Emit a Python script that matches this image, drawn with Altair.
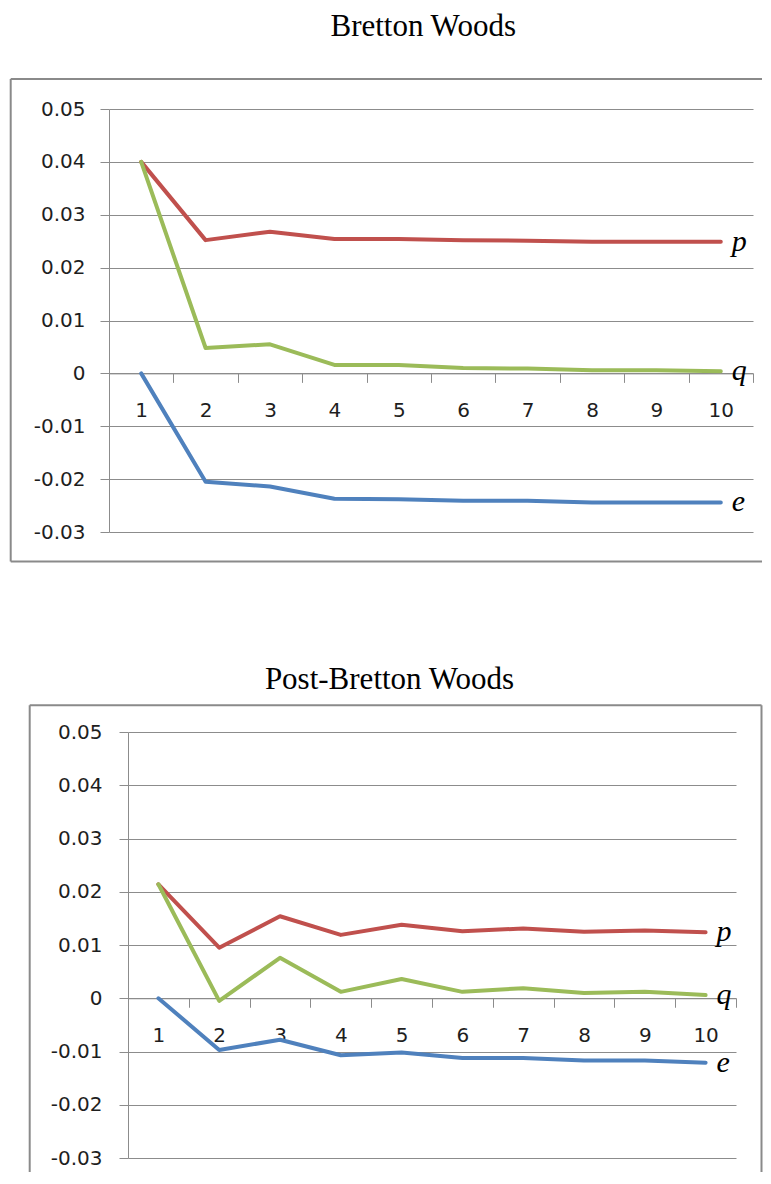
import altair as alt
import pandas as pd

# ---------------- data ----------------
periods = list(range(1, 11))

bw_p = [0.0400, 0.0252, 0.0268, 0.0254, 0.0254, 0.0252, 0.0251, 0.0249, 0.0249, 0.0249]
bw_q = [0.0400, 0.0048, 0.0055, 0.0016, 0.0016, 0.0010, 0.0009, 0.0006, 0.0006, 0.0004]
bw_e = [0.0000, -0.0205, -0.0214, -0.0237, -0.0238, -0.0241, -0.0241, -0.0244, -0.0244, -0.0244]

pbw_p = [0.0214, 0.0095, 0.0154, 0.0119, 0.0138, 0.0126, 0.0131, 0.0125, 0.0127, 0.0124]
pbw_q = [0.0214, -0.0005, 0.0076, 0.0012, 0.0036, 0.0012, 0.0019, 0.0010, 0.0012, 0.0006]
pbw_e = [0.0000, -0.0097, -0.0078, -0.0107, -0.0102, -0.0112, -0.0112, -0.0117, -0.0117, -0.0121]

y_tick_values = [-0.03, -0.02, -0.01, 0.0, 0.01, 0.02, 0.03, 0.04, 0.05]
x_tick_values = [0.5, 1.5, 2.5, 3.5, 4.5, 5.5, 6.5, 7.5, 8.5, 9.5, 10.5]

series_names = ["e", "p", "q"]
series_colors = ["#4F81BD", "#C0504D", "#9BBB59"]
titles = ["Bretton Woods", "Post-Bretton Woods"]

GRID = "#8c8c8c"
FRAME = "#8a8a8a"
LABEL = "#1e1e1e"


def long_df(p, q, e):
    rows = []
    for name, vals in (("e", e), ("p", p), ("q", q)):
        for t, v in zip(periods, vals):
            rows.append({"t": t, "v": v, "s": name})
    return pd.DataFrame(rows)


one = pd.DataFrame({"a": [0]})


def hrule(x1, x2, y):
    return alt.Chart(one).mark_rule(color=FRAME, strokeWidth=2).encode(
        x=alt.value(x1), x2=alt.value(x2), y=alt.value(y)
    )


def vrule(x, y1, y2):
    return alt.Chart(one).mark_rule(color=FRAME, strokeWidth=2).encode(
        x=alt.value(x), y=alt.value(y1), y2=alt.value(y2)
    )


def panel(title, p, q, e, W, H, ylabpad, xlabpad, title_x, title_y, frame_layers):
    df = long_df(p, q, e)
    xenc = alt.X(
        "t:Q",
        scale=alt.Scale(domain=[0.5, 10.5], nice=False, zero=False),
        axis=alt.Axis(
            values=x_tick_values,
            title=None,
            grid=False,
            orient="bottom",
            offset=-(H * 3.0 / 8.0),
            domainColor=GRID,
            domainWidth=1,
            tickColor=GRID,
            tickSize=9,
            tickWidth=1,
            labelExpr="datum.value > 1 ? format(datum.value - 0.5, 'd') : ''",
            labelOffset=-W / 20.0,
            labelFlush=False,
            labelOverlap=False,
            labelPadding=xlabpad,
            labelFont="DejaVu Sans",
            labelFontSize=20,
            labelColor=LABEL,
        ),
    )
    yenc = alt.Y(
        "v:Q",
        scale=alt.Scale(domain=[-0.03, 0.05], nice=False, zero=False),
        axis=alt.Axis(
            values=y_tick_values,
            title=None,
            grid=True,
            gridColor=GRID,
            gridWidth=1,
            domainColor=GRID,
            domainWidth=1,
            tickColor=GRID,
            tickSize=9,
            tickWidth=1,
            labelExpr="abs(datum.value) < 1e-9 ? '0' : (datum.value < 0 ? '-' : '') + format(abs(datum.value), '.2f')",
            labelPadding=ylabpad,
            labelFont="DejaVu Sans",
            labelFontSize=20,
            labelColor=LABEL,
            labelOverlap=False,
        ),
    )
    base = alt.Chart(df).encode(x=xenc, y=yenc)
    lines = base.mark_line(strokeWidth=4, strokeCap="round", strokeJoin="round").encode(
        color=alt.Color(
            "s:N",
            scale=alt.Scale(domain=series_names, range=series_colors),
            legend=None,
        )
    )
    labels = base.transform_filter("datum.t == 10").mark_text(
        align="left",
        baseline="middle",
        dx=11,
        font="Liberation Serif",
        fontStyle="italic",
        fontSize=30,
        color="black",
    ).encode(text="s:N")
    title_mark = alt.Chart(one).mark_text(
        align="center",
        baseline="top",
        font="Liberation Serif",
        fontSize=31,
        color="black",
    ).encode(x=alt.value(title_x), y=alt.value(title_y), text=alt.value(title))
    return alt.layer(*frame_layers, title_mark, lines, labels).properties(width=W, height=H)


def spacer(w):
    return alt.Chart(one).mark_rect(opacity=0).encode(
        x=alt.value(0), x2=alt.value(w), y=alt.value(0), y2=alt.value(1)
    ).properties(width=w, height=1)


W1, H1 = 644, 423
W2, H2 = 608, 426

top_frame = [
    hrule(-98.3, W1 + 9, -30),
    hrule(-98.3, W1 + 9, 452.4),
    vrule(-98.3, -30, 452.4),
]
bottom_frame = [
    hrule(-98.3, W2 + 25.5, -26.7),
    vrule(-98.3, -26.7, 440),
    vrule(W2 + 25.5, -26.7, 440),
]

top = panel(titles[0], bw_p, bw_q, bw_e, W1, H1, 15, 18, 314.2, -97, top_frame)
bottom = panel(titles[1], pbw_p, pbw_q, pbw_e, W2, H2, 17, 18, 261.5, -67.3, bottom_frame)

row1 = alt.hconcat(spacer(1), top, spacing=0)
row2 = alt.hconcat(spacer(20), bottom, spacing=0)

chart = (
    alt.vconcat(row1, row2, spacing=100)
    .properties(
        padding={"top": 3, "left": 0, "right": 0, "bottom": 0},
        background="white",
    )
    .configure_view(strokeWidth=0)
)

chart.save("out.html", embed_options={"renderer": "svg", "actions": False})
